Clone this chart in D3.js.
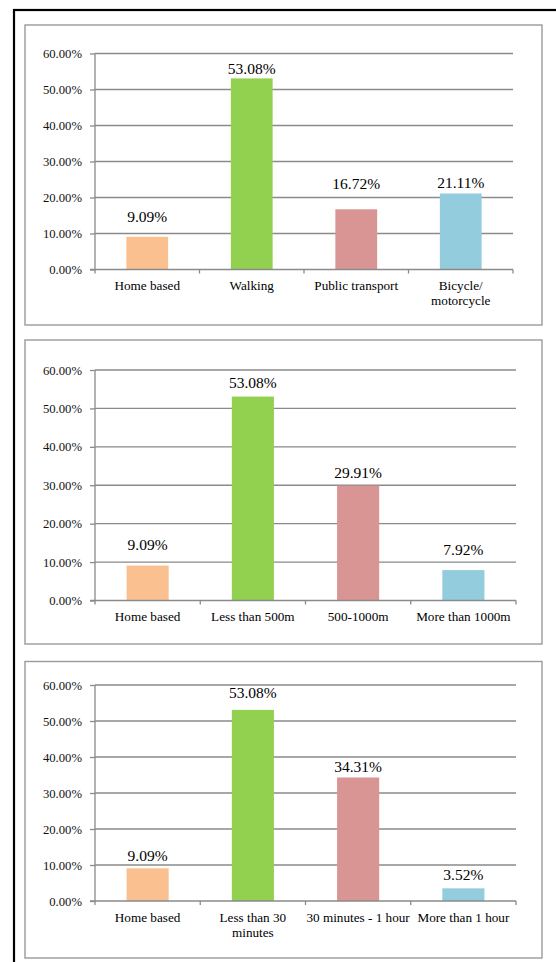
<!DOCTYPE html>
<html>
<head>
<meta charset="utf-8">
<script src="https://cdn.jsdelivr.net/npm/d3@7"></script>
<style>
  body { margin: 0; background: #fff; }
  svg text { font-family: "Liberation Serif", Tinos, "Times New Roman", serif; }
</style>
</head>
<body>
<div id="chart-area"></div>
<script>
// chart values
var yTicks = [0, 0.1, 0.2, 0.3, 0.4, 0.5, 0.6];
var barColors = ["#FAC090", "#92D050", "#D99594", "#93CDDD"];

var modeCategories = ["Home based", "Walking", "Public transport", "Bicycle/\nmotorcycle"];
var modeShares = [0.0909, 0.5308, 0.1672, 0.2111];

var distanceCategories = ["Home based", "Less than 500m", "500-1000m", "More than 1000m"];
var distanceShares = [0.0909, 0.5308, 0.2991, 0.0792];

var timeCategories = ["Home based", "Less than 30\nminutes", "30 minutes - 1 hour", "More than 1 hour"];
var timeShares = [0.0909, 0.5308, 0.3431, 0.0352];

// layout of the three boxes (pixels)
var panels = [
    { cats: modeCategories, vals: modeShares,
      box: { x: 25, y: 25, w: 517, h: 300 }, plot: { top: 53.5, bottom: 269.5, left: 95, right: 513 },
      lift: [20, 10, 26, 11] },
    { cats: distanceCategories, vals: distanceShares,
      box: { x: 25, y: 340, w: 517, h: 304 }, plot: { top: 370, bottom: 600.5, left: 95, right: 516 },
      lift: [21, 14, 13, 20] },
    { cats: timeCategories, vals: timeShares,
      box: { x: 25, y: 661.5, w: 517, h: 296.5 }, plot: { top: 685, bottom: 901, left: 95, right: 516 },
      lift: [13, 17, 11, 14] }
];

var lineColor = "#8a8a8a";
var serif = '"Liberation Serif", Tinos, "Times New Roman", serif';
var pct = d3.format(".2%");

var svg = d3.select("#chart-area").append("svg")
    .attr("width", 556)
    .attr("height", 962)
    .style("display", "block");

// outer black frame
svg.append("rect")
    .attr("x", 14).attr("y", 10)
    .attr("width", 700).attr("height", 1100)
    .attr("fill", "none")
    .attr("stroke", "#000")
    .attr("stroke-width", 2.2);

panels.forEach(function(p) {
    var g = svg.append("g");

    g.append("rect")
        .attr("x", p.box.x).attr("y", p.box.y)
        .attr("width", p.box.w).attr("height", p.box.h)
        .attr("fill", "#fff")
        .attr("stroke", "#9a9a9a")
        .attr("stroke-width", 1.4);

    var x = d3.scaleBand().domain(p.cats).range([p.plot.left, p.plot.right]).paddingInner(0.6).paddingOuter(0.3);
    var xb = d3.scaleBand().domain(p.cats).range([p.plot.left, p.plot.right]);
    var y = d3.scaleLinear().domain([0, 0.6]).range([p.plot.bottom, p.plot.top]);

    // y ticks
    var yAxis = g.append("g")
        .attr("transform", "translate(" + p.plot.left + ",0)")
        .call(d3.axisLeft(y).tickValues(yTicks).tickFormat(pct).tickSize(5).tickPadding(8));
    yAxis.attr("font-family", serif);
    yAxis.select(".domain").remove();
    yAxis.selectAll(".tick line").attr("stroke", lineColor).attr("stroke-width", 1.3);
    yAxis.selectAll(".tick text")
        .style("font-family", serif)
        .attr("font-size", 12.7)
        .attr("fill", "#111");

    // gridlines
    g.append("g").selectAll("line")
        .data(yTicks.slice(1))
        .enter().append("line")
        .attr("x1", p.plot.left).attr("x2", p.plot.right)
        .attr("y1", function(d) { return y(d); })
        .attr("y2", function(d) { return y(d); })
        .attr("stroke", lineColor)
        .attr("stroke-width", 1.3);

    // y axis line
    g.append("line")
        .attr("x1", p.plot.left).attr("x2", p.plot.left)
        .attr("y1", y(0.6)).attr("y2", y(0))
        .attr("stroke", lineColor).attr("stroke-width", 1.3);

    // bars
    g.selectAll("rect.bar")
        .data(p.vals)
        .enter().append("rect")
        .attr("class", "bar")
        .attr("x", function(d, i) { return x(p.cats[i]); })
        .attr("width", x.bandwidth())
        .attr("y", function(d) { return y(d); })
        .attr("height", function(d) { return y(0) - y(d); })
        .attr("fill", function(d, i) { return barColors[i]; });

    // value labels
    g.selectAll("text.val")
        .data(p.vals)
        .enter().append("text")
        .attr("class", "val")
        .attr("x", function(d, i) { return x(p.cats[i]) + x.bandwidth() / 2; })
        .attr("y", function(d, i) { return y(d) - p.lift[i]; })
        .attr("dy", "0.35em")
        .attr("text-anchor", "middle")
        .style("font-family", serif)
        .attr("font-size", 15.5)
        .attr("fill", "#000")
        .text(function(d) { return pct(d); });

    // x axis
    var boundaries = p.cats.map(function(c) { return xb(c); }).concat([p.plot.right]);
    g.append("line")
        .attr("x1", p.plot.left - 5).attr("x2", p.plot.right)
        .attr("y1", y(0)).attr("y2", y(0))
        .attr("stroke", lineColor).attr("stroke-width", 1.3);
    g.selectAll("line.xt")
        .data(boundaries)
        .enter().append("line")
        .attr("class", "xt")
        .attr("x1", function(d) { return d; }).attr("x2", function(d) { return d; })
        .attr("y1", y(0)).attr("y2", y(0) + 4)
        .attr("stroke", lineColor).attr("stroke-width", 1.3);

    // category labels
    p.cats.forEach(function(c) {
        var t = g.append("text")
            .attr("x", xb(c) + xb.bandwidth() / 2)
            .attr("y", y(0) + 16)
            .attr("text-anchor", "middle")
            .style("font-family", serif)
            .attr("font-size", 13.2)
            .attr("fill", "#000");
        c.split("\n").forEach(function(line, k) {
            t.append("tspan")
                .attr("x", xb(c) + xb.bandwidth() / 2)
                .attr("dy", k === 0 ? "0.35em" : 15)
                .text(line);
        });
    });
});
</script>
</body>
</html>
